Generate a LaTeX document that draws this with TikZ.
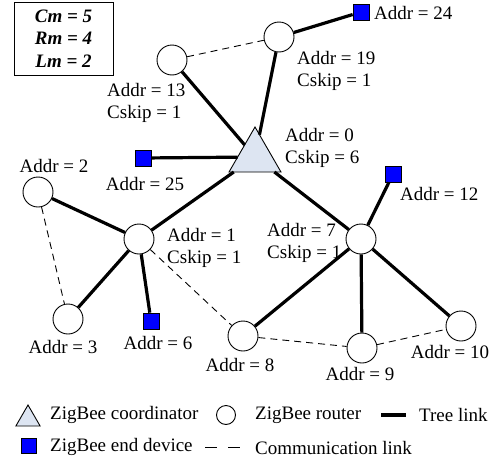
\documentclass[tikz,border=0pt]{standalone}
\usepackage{fontspec}
\setmainfont{Liberation Serif}
\usepackage{xcolor}
\usepackage{tikz}
\usetikzlibrary{shapes.geometric, positioning}

\definecolor{coordfill}{RGB}{221,229,242}

\begin{document}
\begin{tikzpicture}[x=1pt, y=-1pt,
    every node/.style={font=\fontsize{19}{22}\selectfont},
    router/.style={circle, draw, line width=0.9pt, fill=white, minimum size=30pt, inner sep=0pt},
    enddev/.style={rectangle, draw, line width=0.7pt, fill=blue, minimum size=16pt, inner sep=0pt},
    zcoord/.style={regular polygon, regular polygon sides=3, draw, line width=0.9pt, fill=coordfill, minimum size=60pt, inner sep=0pt, outer sep=0pt},
    tree/.style={line width=3.2pt},
    comm/.style={line width=0.9pt, dash pattern=on 7pt off 5pt},
    lbl/.style={inner sep=0pt}]
  \useasboundingbox (0,0) rectangle (498,466);

  % Parameters
  \node[draw, line width=0.9pt, minimum width=99pt, minimum height=73pt, align=center,
        font=\fontsize{19}{22.5}\selectfont\bfseries\itshape] (param) at (63.5,38.5)
        {Cm = 5\\Rm = 4\\Lm = 2};

  % Nodes
  \node[zcoord] (c0) at (255,157) {};
  \node[router] (r13) at (172,60) {};
  \node[router] (r19) at (279,37) {};
  \node[enddev] (e24) at (361,12) {};
  \node[enddev] (e25) at (143,158) {};
  \node[router] (r2) at (38,192) {};
  \node[router] (r1) at (139,239) {};
  \node[router] (r3) at (68,319) {};
  \node[enddev] (e6) at (151,321) {};
  \node[router] (r8) at (243,336) {};
  \node[router] (r7) at (361,239) {};
  \node[enddev] (e12) at (393,174) {};
  \node[router] (r9) at (362,348) {};
  \node[router] (r10) at (461,326) {};

  % Tree links
  \draw[tree] (c0) -- (r13);
  \draw[tree] (c0) -- (r19);
  \draw[tree] (r19) -- (e24);
  \draw[tree] (c0) -- (e25);
  \draw[tree] (c0) -- (r1);
  \draw[tree] (c0) -- (r7);
  \draw[tree] (r1) -- (r2);
  \draw[tree] (r1) -- (r3);
  \draw[tree] (r1) -- (e6);
  \draw[tree] (r7) -- (e12);
  \draw[tree] (r7) -- (r8);
  \draw[tree] (r7) -- (r9);
  \draw[tree] (r7) -- (r10);

  % Communication links
  \draw[comm] (r13) -- (r19);
  \draw[comm] (r2) -- (r3);
  \draw[comm] (r1) -- (r8);
  \draw[comm] (r8) -- (r9);
  \draw[comm] (r9) -- (r10);

  % Labels
  \node[lbl, anchor=west] (l24) at (374,13) {Addr = 24};
  \node[lbl, anchor=west, align=left] (l19) at (297,71) {Addr = 19\\Cskip = 1};
  \node[lbl, anchor=west, align=left] (l13) at (107,103) {Addr = 13\\Cskip = 1};
  \node[lbl, anchor=west, align=left] (l0) at (285,148) {Addr = 0\\Cskip = 6};
  \node[lbl] (l25) at (145,184) {Addr = 25};
  \node[lbl] (l2) at (54,166) {Addr = 2};
  \node[lbl, anchor=west, align=left] (l1) at (167,248) {Addr = 1\\Cskip = 1};
  \node[lbl, anchor=west, align=left] (l7) at (267,243) {Addr = 7\\Cskip = 1};
  \node[lbl, anchor=west] (l12) at (400,194) {Addr = 12};
  \node[lbl] (l3) at (63,347) {Addr = 3};
  \node[lbl] (l6) at (158,343) {Addr = 6};
  \node[lbl] (l8) at (240,365) {Addr = 8};
  \node[lbl] (l9) at (360,374) {Addr = 9};
  \node[lbl] (l10) at (450,352) {Addr = 10};

  % Legend
  \node[zcoord, minimum size=28pt] (kc) at (28,419) {};
  \node[lbl, anchor=west] (kct) at (50,415) {ZigBee coordinator};
  \node[router, minimum size=19pt] (kr) at (226,415) {};
  \node[lbl, anchor=west] (krt) at (255,415) {ZigBee router};
  \coordinate (kt1) at (381,415);
  \coordinate (kt2) at (406,415);
  \draw[tree] (kt1) -- (kt2);
  \node[lbl, anchor=west] (ktt) at (419,415) {Tree link};
  \node[enddev, minimum size=15pt] (ke) at (29,446) {};
  \node[lbl, anchor=west] (ket) at (50,447) {ZigBee end device};
  \coordinate (kd1) at (205,447);
  \coordinate (kd2) at (240,447);
  \draw[line width=0.9pt, dash pattern=on 12pt off 11pt] (kd1) -- (kd2);
  \node[lbl, anchor=west] (kdt) at (255,448) {Communication link};
\end{tikzpicture}
\end{document}
